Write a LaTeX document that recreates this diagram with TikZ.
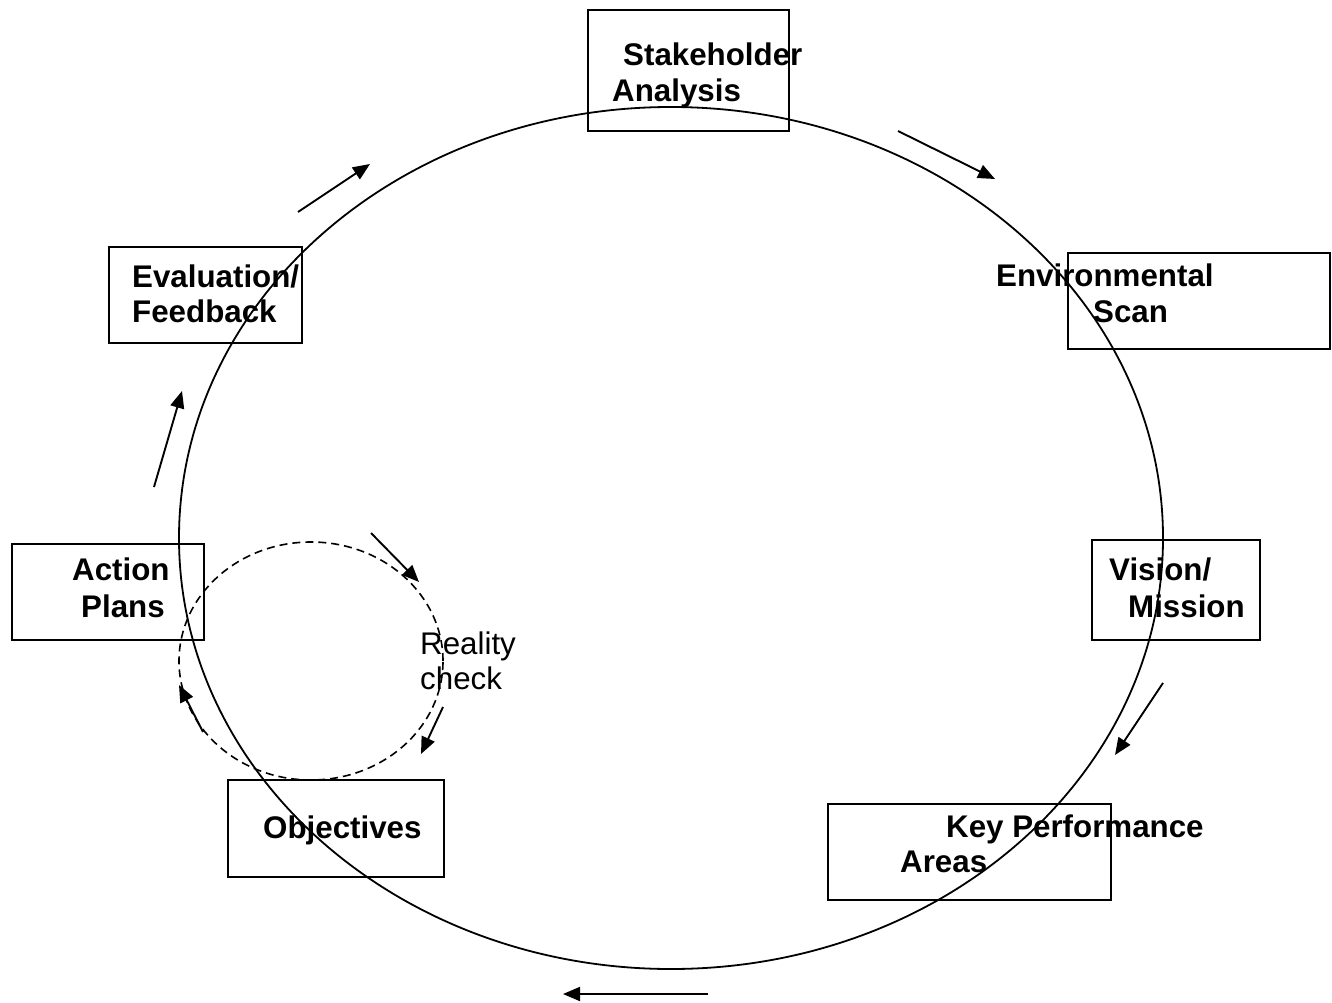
\documentclass[tikz,border=0pt]{standalone}
\usepackage{fontspec}
\setmainfont{Liberation Sans}
\usetikzlibrary{arrows.meta,shapes.geometric}
\begin{document}
\begin{tikzpicture}[x=1pt,y=-1pt,
  boxnode/.style={draw, line width=2pt, inner sep=0pt, anchor=north west},
  lbl/.style={anchor=base west, inner sep=0pt, font=\fontsize{31.3}{36.7}\selectfont\bfseries},
  rlbl/.style={anchor=base west, inner sep=0pt, font=\fontsize{31.3}{36.7}\selectfont},
  flow/.style={line width=1.9pt, -{Triangle[length=17pt,width=14pt]}},
  ring/.style={draw, ellipse, inner sep=0pt, line width=1.8pt},
]
\useasboundingbox (0,0) rectangle (1332,1003);
\fill[white] (0,0) rectangle (1332,1003);

% main cycle and reality-check loop
\node[ring, minimum width=984pt, minimum height=862pt] (cycle) at (671,538) {};
\node[ring, dash pattern=on 8pt off 5pt, line width=1.6pt, minimum width=264pt, minimum height=238pt] (loop) at (311,661) {};

% boxes
\node[boxnode, minimum width=201pt, minimum height=121pt] (bsh) at (587,9) {};
\node[boxnode, minimum width=262pt, minimum height=96pt] (benv) at (1067,252) {};
\node[boxnode, minimum width=168pt, minimum height=100pt] (bvis) at (1091,539) {};
\node[boxnode, minimum width=283pt, minimum height=96pt] (bkpa) at (827,803) {};
\node[boxnode, minimum width=216pt, minimum height=97pt] (bobj) at (227,779) {};
\node[boxnode, minimum width=192pt, minimum height=96pt] (bact) at (11,543) {};
\node[boxnode, minimum width=193pt, minimum height=96pt] (beva) at (108,246) {};

% labels
\node[lbl] (tsh1) at (623,66) {Stakeholder};
\node[lbl] (tsh2) at (612,102) {Analysis};
\node[lbl] (tenv1) at (996,286) {Environmental};
\node[lbl] (tenv2) at (1093,322) {Scan};
\node[lbl] (tvis1) at (1109,580) {Vision/};
\node[lbl] (tvis2) at (1128,617) {Mission};
\node[lbl] (tkpa1) at (946,837) {Key Performance};
\node[lbl] (tkpa2) at (900,872) {Areas};
\node[lbl] (tobj) at (263,838) {Objectives};
\node[lbl] (tact1) at (72,580) {Action};
\node[lbl] (tact2) at (81,617) {Plans};
\node[lbl] (teva1) at (132,287) {Evaluation/};
\node[lbl] (teva2) at (132,322) {Feedback};
\node[rlbl] (trc1) at (420,654) {Reality};
\node[rlbl] (trc2) at (420,689) {check};

% arrow end points
\coordinate (a1s) at (898,131);  \coordinate (a1e) at (995,179);
\coordinate (a2s) at (1163,683); \coordinate (a2e) at (1115,755);
\coordinate (a3s) at (708,994);  \coordinate (a3e) at (563,994);
\coordinate (a4s) at (154,487);  \coordinate (a4e) at (182,391);
\coordinate (a5s) at (298,212);  \coordinate (a5e) at (370,164);
\coordinate (r1s) at (371,533);  \coordinate (r1e) at (419,582);
\coordinate (r2s) at (443,707);  \coordinate (r2e) at (421,754);
\coordinate (r3s) at (203,732);  \coordinate (r3e) at (179,685);

\draw[flow] (a1s) -- (a1e);
\draw[flow] (a2s) -- (a2e);
\draw[flow] (a3s) -- (a3e);
\draw[flow] (a4s) -- (a4e);
\draw[flow] (a5s) -- (a5e);
\draw[flow] (r1s) -- (r1e);
\draw[flow] (r2s) -- (r2e);
\draw[flow] (r3s) -- (r3e);
\end{tikzpicture}
\end{document}
